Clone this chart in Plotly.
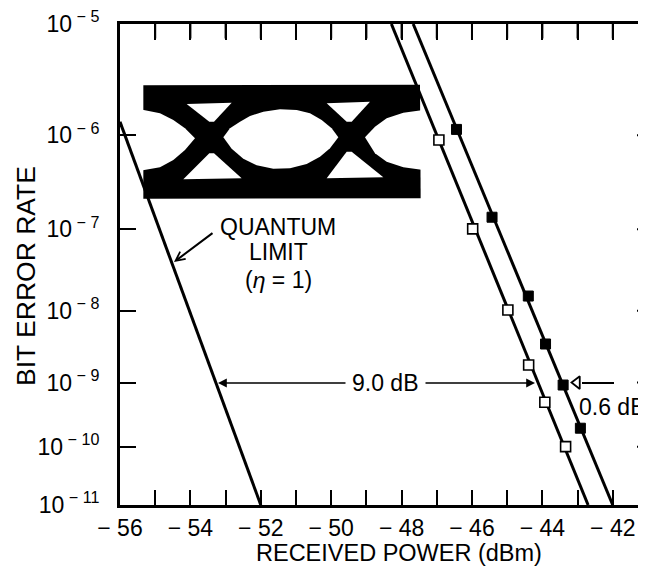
import numpy as np
import plotly.graph_objects as go

# ---------------- data ----------------
quantum_power = [-56.0, -52.0]
quantum_ber = [1.35e-6, 1e-11]

open_power = [-46.94, -45.98, -44.98, -44.39, -43.93, -43.34]
open_ber = [8.97e-7, 1.01e-7, 1.02e-8, 1.80e-9, 5.08e-10, 1.01e-10]

filled_power = [-46.44, -45.43, -44.40, -43.91, -43.41, -42.92]
filled_ber = [1.14e-6, 1.37e-7, 1.55e-8, 3.56e-9, 9.2e-10, 2.0e-10]

open_fit_power = [-48.29, -42.70]
open_fit_ber = [1e-5, 1e-11]
filled_fit_power = [-47.67, -42.00]
filled_fit_ber = [1e-5, 1e-11]

ber_tick_exps = [5, 6, 7, 8, 9, 10, 11]
x_tick_vals = [-56, -54, -52, -50, -48, -46, -44, -42]
x_minor_vals = list(range(-56, -40))
x_range = [-56, -41.056]

FONT = "Liberation Sans, Arial, Helvetica, sans-serif"

# BER axis: straight lines in log10(-log10(BER))
def berscale(b):
    return np.log10(-np.log10(np.asarray(b, dtype=float)))

# page geometry: the html body adds an 8px margin, so the figure is made
# 8px smaller and all page positions are shifted by that offset
OFF = 8
W, H = 646 - OFF, 568 - OFF
ML, MR, MT, MB = 120 - OFF, 0, 24 - OFF, 63
PW, PH = W - ML - MR, H - MT - MB

Y_TOP, Y_BOT = float(berscale(1e-5)), float(berscale(1e-11))

def P(px, py):
    """page pixel position -> paper coordinates"""
    fx, fy = px - OFF, py - OFF
    return ((fx - ML) / PW, (H - MB - fy) / PH)

fig = go.Figure()

# ---------------- eye diagram inset (illustration) ----------------
def path_from(points):
    pts = [P(x, y) for x, y in points]
    s = "M %.5f,%.5f " % pts[0]
    for p in pts[1:]:
        s += "L %.5f,%.5f " % p
    return s + "Z"

def z(points):  # convert measured zoom coords of the inset
    return [(130 + a / 3.0, 60 + b / 3.0) for a, b in points]

eye_black = z([(40, 76), (870, 74), (872, 415), (40, 416)])
eye_center = z([(280, 232), (300, 205), (330, 185), (360, 168), (400, 155), (450, 148),
                (500, 150), (540, 160), (575, 180), (605, 205), (625, 232),
                (600, 265), (570, 290), (530, 312), (480, 325), (430, 326),
                (380, 316), (340, 296), (305, 266)])
eye_left = z([(30, 148), (90, 160), (130, 180), (165, 205), (195, 235),
              (165, 270), (130, 300), (90, 322), (30, 332)])
eye_right = z([(705, 232), (735, 200), (770, 175), (820, 158), (880, 150),
               (880, 330), (820, 322), (770, 305), (735, 280)])
tri_tl = z([(170, 132), (305, 128), (252, 185), (238, 185)])
tri_tr = z([(590, 130), (720, 125), (665, 185), (650, 185)])
tri_bl = z([(238, 280), (252, 280), (335, 355), (160, 358)])
tri_br = z([(650, 275), (665, 275), (760, 352), (590, 355)])

shapes = []
shapes.append(dict(type="path", path=path_from(eye_black), xref="paper", yref="paper",
                   fillcolor="black", line=dict(width=0), layer="below"))
for poly in [eye_center, eye_left, eye_right, tri_tl, tri_tr, tri_bl, tri_br]:
    shapes.append(dict(type="path", path=path_from(poly), xref="paper", yref="paper",
                       fillcolor="white", line=dict(width=0), layer="below"))

# right-hand y ticks (the right frame lies just outside the picture)
for e in ber_tick_exps[1:-1]:
    shapes.append(dict(type="line", xref="paper", yref="y", x0=P(637, 0)[0], x1=1.0,
                       y0=float(berscale(10.0 ** -e)), y1=float(berscale(10.0 ** -e)),
                       line=dict(color="black", width=2)))

# 0.6 dB arrow shaft
shapes.append(dict(type="line", xref="paper", yref="paper",
                   x0=P(582, 383)[0], y0=P(582, 383)[1], x1=P(614, 383)[0], y1=P(614, 383)[1],
                   line=dict(color="black", width=2)))

# ---------------- data traces ----------------
fig.add_trace(go.Scatter(x=quantum_power, y=berscale(quantum_ber), mode="lines",
                         line=dict(color="black", width=3), showlegend=False))
fig.add_trace(go.Scatter(x=open_fit_power, y=berscale(open_fit_ber), mode="lines",
                         line=dict(color="black", width=3), showlegend=False))
fig.add_trace(go.Scatter(x=filled_fit_power, y=berscale(filled_fit_ber), mode="lines",
                         line=dict(color="black", width=3), showlegend=False))
fig.add_trace(go.Scatter(x=open_power, y=berscale(open_ber), mode="markers",
                         marker=dict(symbol="square", size=10, color="white",
                                     line=dict(color="black", width=1.6)), showlegend=False))
fig.add_trace(go.Scatter(x=filled_power, y=berscale(filled_ber), mode="markers",
                         marker=dict(symbol="square", size=10, color="black",
                                     line=dict(color="black", width=1)), showlegend=False))
# hollow arrow head of the 0.6 dB marker
fig.add_trace(go.Scatter(x=[x_range[0] + P(577, 0)[0] * (x_range[1] - x_range[0])],
                         y=berscale([1e-9]), mode="markers",
                         marker=dict(symbol="triangle-left-open", size=11, color="black",
                                     line=dict(width=1.8)), showlegend=False))
# empty trace that activates the top axis (frame line along the top)
fig.add_trace(go.Scatter(x=[x_range[0]], y=[Y_TOP], xaxis="x2", yaxis="y",
                         mode="markers", marker=dict(size=1, opacity=0),
                         showlegend=False, hoverinfo="skip"))

# ---------------- annotations ----------------
ann = []
def text(px, py, s, size=23, **kw):
    x, y = P(px, py)
    d = dict(x=x, y=y, xref="paper", yref="paper", text=s, showarrow=False,
             font=dict(family=FONT, size=size, color="black"),
             xanchor="center", yanchor="middle")
    d.update(kw)
    ann.append(d)

text(278, 227, "QUANTUM")
text(278, 252, "LIMIT")
text(278, 280, "(<i>η</i> = 1)")
text(385, 383, "9.0 dB")
text(577, 407, "0.6 dB", xanchor="left")
text(399, 553, "RECEIVED POWER (dBm)", size=23.5)
text(26, 276, "BIT ERROR RATE", size=26.5, textangle=-90)

def arrow(tip, tail, head, width=1.6, size=1.0):
    x, y = P(*tip)
    ann.append(dict(x=x, y=y, xref="paper", yref="paper", text="", showarrow=True,
                    ax=tail[0] - tip[0], ay=tail[1] - tip[1], arrowhead=head,
                    arrowwidth=width, arrowsize=size, arrowcolor="black", standoff=0))

arrow((174, 262), (214, 232), 5, width=2, size=0.9)
arrow((218, 383), (347, 383), 2, width=1.6, size=1.1)
arrow((535, 383), (424, 383), 2, width=1.6, size=1.1)

# inward ticks along the top frame (drawn as head-less annotation arrows)
for v in x_minor_vals[1:]:
    if v < x_range[1]:
        ann.append(dict(x=v, y=1, xref="x", yref="paper", text="", showarrow=True,
                        ax=0, ay=16, arrowhead=0, arrowwidth=2, arrowcolor="black",
                        standoff=0, startstandoff=0))

# ---------------- layout ----------------
fig.update_layout(
    width=W, height=H,
    margin=dict(l=ML, r=MR, t=MT, b=MB, pad=0, autoexpand=False),
    paper_bgcolor="white", plot_bgcolor="white",
    font=dict(family=FONT, size=23, color="black"),
    showlegend=False,
    modebar=dict(bgcolor="rgba(0,0,0,0)"),
    shapes=shapes,
    annotations=ann,
    xaxis=dict(
        range=x_range, showgrid=False, zeroline=False, automargin=False,
        showline=True, linecolor="black", linewidth=3, mirror=False,
        ticks="inside", ticklen=15, tickwidth=2, tickcolor="black",
        tickmode="array", tickvals=x_tick_vals,
        ticktext=["\u2212 %d" % abs(v) for v in x_tick_vals],
        tickfont=dict(family=FONT, size=23, color="black"),
        ticklabeloverflow="allow",
        minor=dict(tickmode="array", tickvals=x_minor_vals, ticks="inside",
                   ticklen=15, tickwidth=2, tickcolor="black", showgrid=False),
    ),
    xaxis2=dict(
        overlaying="x", side="top", anchor="y", matches="x",
        range=x_range, showgrid=False, zeroline=False, automargin=False,
        showline=True, linecolor="black", linewidth=3,
        ticks="inside", ticklen=16, tickwidth=2, tickcolor="black",
        tickmode="array", tickvals=x_minor_vals, showticklabels=False,
    ),
    yaxis=dict(
        range=[Y_BOT, Y_TOP],
        showgrid=False, zeroline=False, automargin=False,
        showline=True, linecolor="black", linewidth=3, mirror=False,
        ticks="inside", ticklen=16, tickwidth=2, tickcolor="black",
        tickmode="array", tickvals=[float(berscale(10.0 ** -e)) for e in ber_tick_exps],
        ticktext=["10<sup> \u2212 %d</sup>" % e for e in ber_tick_exps],
        tickfont=dict(family=FONT, size=23, color="black"),
        ticklabelstandoff=13, ticklabeloverflow="allow",
    ),
)

fig.write_html("out.html", config={"displayModeBar": False})
